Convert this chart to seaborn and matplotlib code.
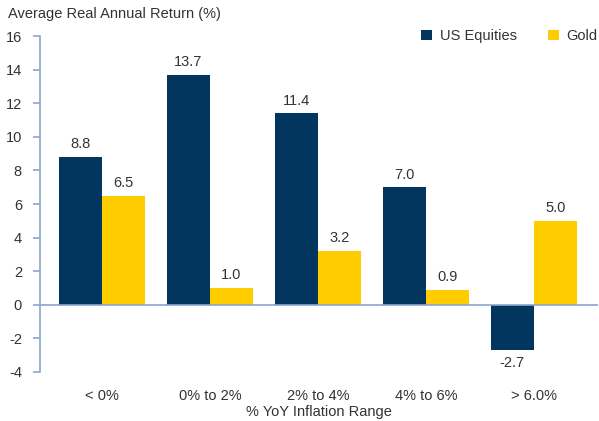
import pandas as pd
import seaborn as sns
import matplotlib.pyplot as plt

# data
categories = ['< 0%', '0% to 2%', '2% to 4%', '4% to 6%', '> 6.0%']
us_equities = [8.8, 13.7, 11.4, 7.0, -2.7]
gold = [6.5, 1.0, 3.2, 0.9, 5.0]

df = pd.DataFrame({
    'range': categories * 2,
    'ret': us_equities + gold,
    'asset': ['US Equities'] * 5 + ['Gold'] * 5,
})

sns.set_style('white')
plt.rcParams['font.family'] = ['Liberation Sans', 'DejaVu Sans']
plt.rcParams['axes.unicode_minus'] = False
text_col = '#333333'
axis_col = '#8aa6d0'
fs = 10.5

fig = plt.figure(figsize=(5.99, 4.21), dpi=100)
ax = fig.add_axes([0.0668, 0.1164, 0.9312, 0.798])

sns.barplot(data=df, x='range', y='ret', hue='asset', order=categories,
            hue_order=['US Equities', 'Gold'],
            palette={'US Equities': '#02365e', 'Gold': '#ffcc00'},
            width=0.8, saturation=1, linewidth=0, ax=ax)

for c in ax.containers:
    ax.bar_label(c, fmt='%.1f', padding=4, fontsize=fs, color=text_col)

ax.axhline(0, color=axis_col, lw=1.2, zorder=3)
ax.set_ylim(-4, 16)
ax.set_yticks(range(-4, 17, 2))
ax.set_xlim(-0.574, 4.593)

for s in ['top', 'right', 'bottom']:
    ax.spines[s].set_visible(False)
ax.spines['left'].set_color(axis_col)
ax.spines['left'].set_linewidth(1.2)
ax.tick_params(axis='y', left=True, length=5, width=1.2, color=axis_col,
               labelsize=fs, labelcolor=text_col, pad=8)
ax.tick_params(axis='x', bottom=False, labelsize=fs, labelcolor=text_col, pad=9)

ax.set_xlabel('% YoY Inflation Range', fontsize=fs, color=text_col)
ax.xaxis.set_label_coords(0.5, -0.12)
ax.xaxis.label.set_va('center')
ax.set_ylabel('')
fig.text(0.013, 0.967, 'Average Real Annual Return (%)', fontsize=fs,
         color=text_col, va='center', ha='left')

leg = ax.legend(loc='center right', bbox_to_anchor=(1.0, 1.0), ncol=2, frameon=False,
                fontsize=fs, handlelength=0.75, handleheight=0.75,
                columnspacing=2.1, handletextpad=0.55, borderaxespad=0, borderpad=0)
for t in leg.get_texts():
    t.set_color(text_col)

fig.savefig('out.png', dpi=100)
